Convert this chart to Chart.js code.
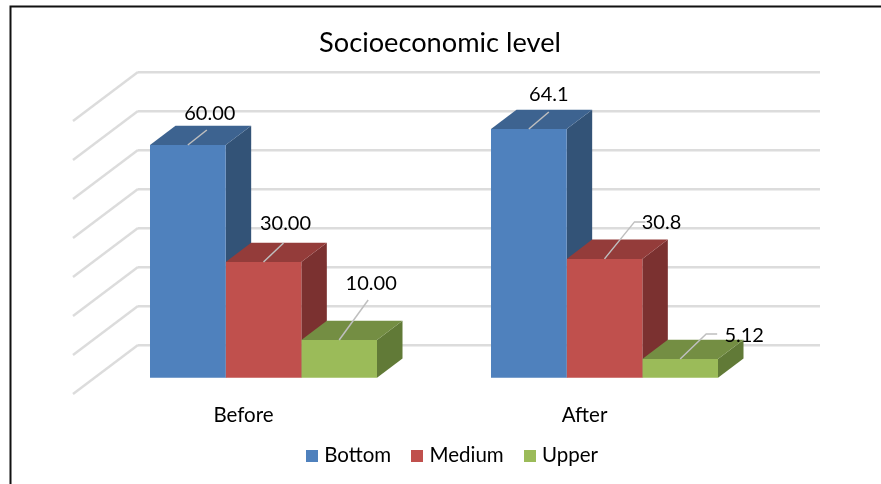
<!DOCTYPE html>
<html>
<head>
<meta charset="utf-8">
<style>html,body{margin:0;padding:0;background:#fff}canvas{display:block}</style>
<script src="https://cdn.jsdelivr.net/npm/chart.js@4"></script>
</head>
<body>
<canvas id="c" width="881" height="484"></canvas>
<script>
const chartTitle = 'Socioeconomic level';
const categories = ['Before', 'After'];
const seriesNames = ['Bottom', 'Medium', 'Upper'];
const bottomValues = [60.00, 64.1];
const mediumValues = [30.00, 30.8];
const upperValues = [10.00, 5.12];
const bottomLabels = ['60.00', '64.1'];
const mediumLabels = ['30.00', '30.8'];
const upperLabels = ['10.00', '5.12'];
const yMax = 70;
const yStep = 10;

// styling
const frontColors = ['#4f81bd', '#c0504d', '#9bbb59'];
const topColors = ['#3d6390', '#943c3a', '#748e43'];
const sideColors = ['#335377', '#7b3130', '#617a37'];
const FONT = 'Lato, Carlito, sans-serif';
const GRID = '#dcdcdc';
const LEADER = '#bfbfbf';
const WALL = {dx: -65, dy: 49};       // floor depth: back wall to front edge
const BAR_SHIFT = {dx: -45, dy: 34};  // back wall to bar front
const DEPTH = {dx: 25.5, dy: -19.3};  // bar depth
// leader polyline and text centre, relative to the top-centre of each bar's front face
const leaderStyle = [
  [{pts: [[0, 0], [19, -15]], text: [22, -31]}, {pts: [[0, 0], [20, -17]], text: [20, -34]}],
  [{pts: [[0, 0], [20, -19]], text: [22, -38]}, {pts: [[0, 0], [30, -37], [41, -37]], text: [57, -36]}],
  [{pts: [[0, 0], [29, -40]], text: [32, -56]}, {pts: [[0, 0], [26, -25], [37, -25]], text: [64, -23]}]
];
const allLabels = [bottomLabels, mediumLabels, upperLabels];
const allValues = [bottomValues, mediumValues, upperValues];

function swatch(color) {
  const s = document.createElement('canvas');
  s.width = 12; s.height = 12;
  const g = s.getContext('2d');
  g.fillStyle = color;
  g.fillRect(0, 0, 12, 12);
  return s;
}
const swatches = frontColors.map(swatch);

const scene3d = {
  id: 'scene3d',
  afterLayout(chart) {
    chart.titleBlock.left -= 39; chart.titleBlock.right -= 39;
    chart.legend.left -= 25; chart.legend.right -= 25;
    chart.legend.top -= 8; chart.legend.bottom -= 8;
  },
  beforeDraw(chart) {
    const ctx = chart.ctx;
    ctx.save();
    ctx.fillStyle = '#fff';
    ctx.fillRect(0, 0, chart.width, chart.height);
    ctx.strokeStyle = '#111';
    ctx.lineWidth = 2;
    ctx.beginPath();
    ctx.moveTo(10.5, chart.height);
    ctx.lineTo(10.5, 6.5);
    ctx.lineTo(chart.width, 6.5);
    ctx.stroke();
    ctx.restore();
  },
  beforeDatasetsDraw(chart) {
    const ctx = chart.ctx, y = chart.scales.y, left = chart.chartArea.left;
    ctx.save();
    ctx.strokeStyle = GRID;
    ctx.lineWidth = 2.4;
    y.ticks.forEach(t => {
      const py = y.getPixelForValue(t.value);
      ctx.beginPath();
      ctx.moveTo(left, py);
      ctx.lineTo(left + WALL.dx, py + WALL.dy);
      ctx.stroke();
    });
    ctx.translate(BAR_SHIFT.dx, BAR_SHIFT.dy);
    // depth faces, series by series, left to right; the library paints the front faces after them
    seriesNames.forEach((name, i) => {
      chart.getDatasetMeta(i).data.forEach(b => {
        const l = b.x - b.width / 2, r = b.x + b.width / 2, t = b.y, base = b.base;
        ctx.fillStyle = sideColors[i];
        ctx.beginPath();
        ctx.moveTo(r, t);
        ctx.lineTo(r + DEPTH.dx, t + DEPTH.dy);
        ctx.lineTo(r + DEPTH.dx, base + DEPTH.dy);
        ctx.lineTo(r, base);
        ctx.closePath();
        ctx.fill();
        ctx.fillStyle = topColors[i];
        ctx.beginPath();
        ctx.moveTo(l, t);
        ctx.lineTo(l + DEPTH.dx, t + DEPTH.dy);
        ctx.lineTo(r + DEPTH.dx, t + DEPTH.dy);
        ctx.lineTo(r, t);
        ctx.closePath();
        ctx.fill();
      });
    });
    ctx.restore();
  },
  beforeDatasetDraw(chart) {
    chart.ctx.save();
    chart.ctx.translate(BAR_SHIFT.dx, BAR_SHIFT.dy);
  },
  afterDatasetDraw(chart) {
    chart.ctx.restore();
  },
  afterDatasetsDraw(chart) {
    const ctx = chart.ctx;
    ctx.save();
    ctx.font = '20px ' + FONT;
    ctx.textAlign = 'center';
    ctx.textBaseline = 'middle';
    allValues.forEach((vals, i) => {
      const meta = chart.getDatasetMeta(i);
      meta.data.forEach((b, j) => {
        const x0 = b.x + BAR_SHIFT.dx, y0 = b.y + BAR_SHIFT.dy, st = leaderStyle[i][j];
        ctx.strokeStyle = LEADER;
        ctx.lineWidth = 1.5;
        ctx.beginPath();
        st.pts.forEach((p, k) => k ? ctx.lineTo(x0 + p[0], y0 + p[1]) : ctx.moveTo(x0 + p[0], y0 + p[1]));
        ctx.stroke();
        ctx.fillStyle = '#000';
        ctx.fillText(allLabels[i][j], x0 + st.text[0], y0 + st.text[1]);
      });
    });
    ctx.restore();
  }
};

const datasets = seriesNames.map((name, i) => ({
  label: name,
  data: allValues[i],
  backgroundColor: frontColors[i],
  borderWidth: 0,
  barPercentage: 1,
  categoryPercentage: 0.6657,
  clip: false
}));

new Chart(document.getElementById('c'), {
  type: 'bar',
  data: {labels: categories, datasets},
  plugins: [scene3d],
  options: {
    responsive: false,
    animation: false,
    devicePixelRatio: 1,
    layout: {padding: {left: 138, right: 61, top: 0, bottom: 0}},
    plugins: {
      tooltip: {enabled: false},
      title: {
        display: true,
        text: chartTitle,
        color: '#000',
        font: {family: FONT, size: 27.2, weight: 'normal', lineHeight: 1.2},
        padding: {top: 27, bottom: 12.4}
      },
      legend: {
        display: true,
        position: 'bottom',
        labels: {
          color: '#000',
          font: {family: FONT, size: 20.5},
          usePointStyle: true,
          boxWidth: 4,
          boxHeight: 12,
          padding: 24,
          generateLabels(c) {
            return Chart.defaults.plugins.legend.labels.generateLabels(c).map((it, i) => {
              it.pointStyle = swatches[i];
              return it;
            });
          }
        }
      }
    },
    scales: {
      x: {
        grid: {display: false, drawTicks: false},
        border: {display: false},
        ticks: {color: '#000', font: {family: FONT, size: 20.5}, padding: 58, labelOffset: WALL.dx, maxRotation: 0},
        afterFit(s) { s.height = 139 - s.chart.legend.height; }
      },
      y: {
        min: 0,
        max: yMax,
        grid: {color: GRID, lineWidth: 2.4, drawTicks: false},
        border: {display: false},
        ticks: {display: false, stepSize: yStep}
      }
    }
  }
});
</script>
</body>
</html>
